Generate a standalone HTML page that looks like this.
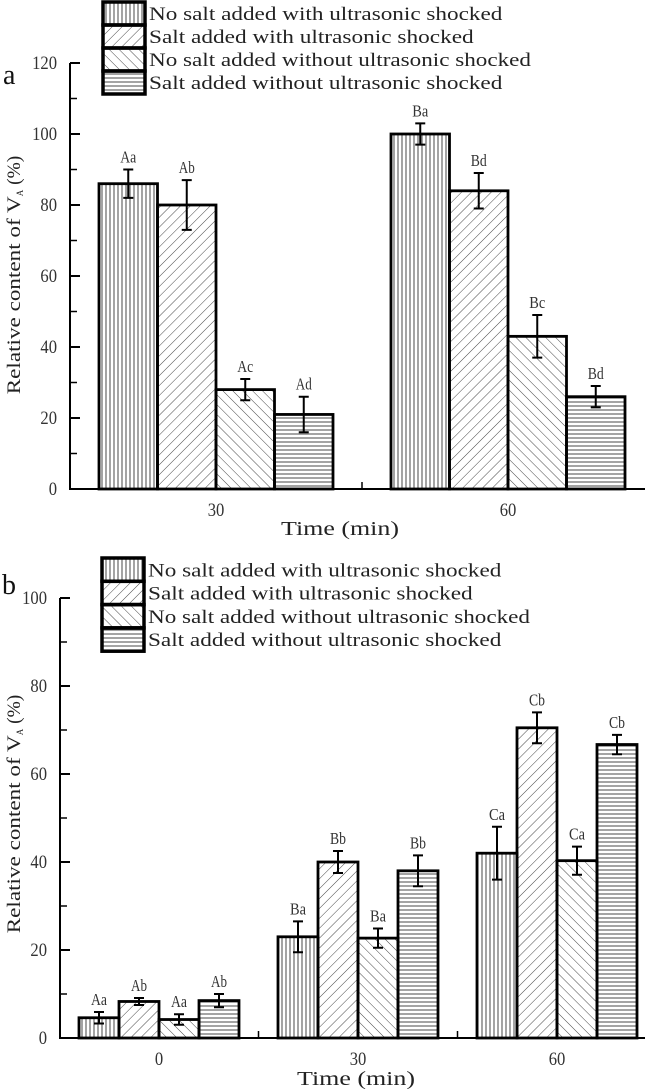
<!DOCTYPE html>
<html><head><meta charset="utf-8"><style>
html,body{margin:0;padding:0;background:#fff;}
svg{display:block;font-family:"Liberation Serif","Noto Serif CJK SC",serif;}
</style></head><body>
<svg id="fig" width="645" height="1089" viewBox="0 0 645 1089" xmlns="http://www.w3.org/2000/svg">
<defs>
<pattern id="pv" patternUnits="userSpaceOnUse" width="4" height="4"><path d="M2 0V4" stroke="#333" stroke-width="0.9"/></pattern>
<pattern id="pf" patternUnits="userSpaceOnUse" width="7" height="7" patternTransform="rotate(45)"><path d="M0 0V7" stroke="#333" stroke-width="0.9"/></pattern>
<pattern id="pb" patternUnits="userSpaceOnUse" width="7" height="7" patternTransform="rotate(-45)"><path d="M0 0V7" stroke="#333" stroke-width="0.9"/></pattern>
<pattern id="ph" patternUnits="userSpaceOnUse" width="4" height="4"><path d="M0 2H4" stroke="#333" stroke-width="0.9"/></pattern>
</defs>
</svg>
<script>
const seriesNames=["No salt added with ultrasonic shocked","Salt added with ultrasonic shocked","No salt added without ultrasonic shocked","Salt added without ultrasonic shocked"];
const fills=["url(#pv)","url(#pf)","url(#pb)","url(#ph)"];
const catsA=["30","60"];
const valuesA=[[86,80,28,21],[100,84,43,26]];
const errA=[[4,7,3,5],[3,5,6,3]];
const lettersA=[["Aa","Ab","Ac","Ad"],["Ba","Bd","Bc","Bd"]];
const ticksA=[0,20,40,60,80,100,120];
const catsB=["0","30","60"];
const valuesB=[[4.6,8.3,4.2,8.5],[23,40,22.7,38],[42,70.5,40.3,66.7]];
const errB=[[1.3,0.8,1.2,1.5],[3.5,2.5,2.2,3.5],[6,3.5,3.2,2.2]];
const lettersB=[["Aa","Ab","Aa","Ab"],["Ba","Bb","Ba","Bb"],["Ca","Cb","Ca","Cb"]];
const ticksB=[0,20,40,60,80,100];

const svg=document.getElementById('fig');
const NS="http://www.w3.org/2000/svg";
function mk(tag,attrs,parent){const e=document.createElementNS(NS,tag);for(const k in attrs)e.setAttribute(k,attrs[k]);(parent||svg).appendChild(e);return e;}

function chart(cfg){
  const g=mk('g',{});
  
  
  const y=v=>cfg.y0-v*cfg.k;
  const yTop=y(cfg.ticks[cfg.ticks.length-1]);
  const ya=mk('line',{x1:cfg.ax,y1:yTop,x2:cfg.ax,y2:cfg.y0,stroke:'#000','stroke-width':2},g);
  
  
  const xa=mk('line',{x1:cfg.ax-1,y1:cfg.y0,x2:645,y2:cfg.y0,stroke:'#000','stroke-width':2},g);
  
  
  const step=cfg.ticks[1]-cfg.ticks[0];
  cfg.ticks.forEach((t,i)=>{
    mk('line',{x1:cfg.ax,y1:y(t),x2:cfg.ax+10,y2:y(t),stroke:'#000','stroke-width':2},g);
    const s=String(t);
    const tl=mk('text',{x:cfg.ax-13,y:y(t)+6,'text-anchor':'end','font-size':19,fill:'#333',textLength:s.length*8.3,lengthAdjust:'spacingAndGlyphs'},g);
    tl.textContent=s;
    
    
    if(i<cfg.ticks.length-1) mk('line',{x1:cfg.ax,y1:y(t+step/2),x2:cfg.ax+7,y2:y(t+step/2),stroke:'#000','stroke-width':1.5},g);
  });
  const n=cfg.cats.length;
  cfg.cats.forEach((c,ci)=>{
    const gx=cfg.g0+ci*cfg.gs;
    cfg.vals[ci].forEach((v,si)=>{
      const x=gx+si*cfg.bw;
      const r=mk('rect',{x:x,y:y(v),width:cfg.bw,height:cfg.y0-y(v),fill:fills[si],stroke:'#000','stroke-width':2.8},g);
      
      
      const cx=x+cfg.bw/2,e=cfg.err[ci][si];
      const eb=mk('path',{d:`M${cx} ${y(v+e)}V${y(v-e)}M${cx-5} ${y(v+e)}H${cx+5}M${cx-5} ${y(v-e)}H${cx+5}`,stroke:'#000','stroke-width':2,fill:'none'},g);
      
      
      const lt=mk('text',{x:cx,y:y(v+e)-7,'text-anchor':'middle','font-size':17,fill:'#333',textLength:16,lengthAdjust:'spacingAndGlyphs'},g);
      lt.textContent=cfg.letters[ci][si];
      
      
    });
    const cl=mk('text',{x:gx+2*cfg.bw,y:cfg.y0+27,'text-anchor':'middle','font-size':19,fill:'#333',textLength:c.length*8.3,lengthAdjust:'spacingAndGlyphs'},g);
    cl.textContent=c;
    
    
    if(ci<n-1){const mx=gx+4*cfg.bw+(cfg.gs-4*cfg.bw)/2;mk('line',{x1:mx,y1:cfg.y0,x2:mx,y2:cfg.y0-7,stroke:'#000','stroke-width':1.5},g);}
  });
  const xt=mk('text',{x:cfg.xtx,y:cfg.xty,'text-anchor':'middle','font-size':20,fill:'#222',textLength:118,lengthAdjust:'spacingAndGlyphs'},g);
  xt.textContent='Time (min)';
  
  
  const yt=mk('text',{x:0,y:0,'text-anchor':'middle','font-size':19,fill:'#222',transform:`translate(${cfg.ytx},${cfg.yty}) rotate(-90)`},g);
  yt.innerHTML='<tspan textLength="198" lengthAdjust="spacingAndGlyphs">Relative content of V</tspan><tspan font-size="9" dy="3">A</tspan><tspan dy="-3" textLength="34" lengthAdjust="spacingAndGlyphs"> (%)</tspan>';
  
  
  const pl=mk('text',{x:cfg.plx,y:cfg.ply,'font-size':28,fill:'#111'},g);
  pl.textContent=cfg.panel;
  
  
  const lg=mk('g',{},g);
  
  
  seriesNames.forEach((s,i)=>{
    const ry=cfg.ly+i*cfg.lh;
    const sw=mk('rect',{x:cfg.lx,y:ry,width:42,height:cfg.lh,fill:fills[i],stroke:'#000','stroke-width':3.5},lg);
    
    
    const tx=mk('text',{x:cfg.lx+46,y:ry+cfg.lh-5,'font-size':19,fill:'#222',textLength:s.length*9.55,lengthAdjust:'spacingAndGlyphs'},lg);
    tx.textContent=s;
    
    
  });
}
chart({name:'chart-a',ticks:ticksA,cats:catsA,vals:valuesA,err:errA,letters:lettersA,ax:70,y0:489,k:3.55,g0:99,gs:292,bw:58.5,xtx:340,xty:535,ytx:20,yty:275,panel:'a',plx:3,ply:84,lx:103,ly:2,lh:23});
chart({name:'chart-b',ticks:ticksB,cats:catsB,vals:valuesB,err:errB,letters:lettersB,ax:60,y0:1038,k:4.4,g0:79,gs:199,bw:40,xtx:356,xty:1085,ytx:20,yty:814,panel:'b',plx:2,ply:594,lx:102,ly:558,lh:23.3});
</script>
</body></html>
